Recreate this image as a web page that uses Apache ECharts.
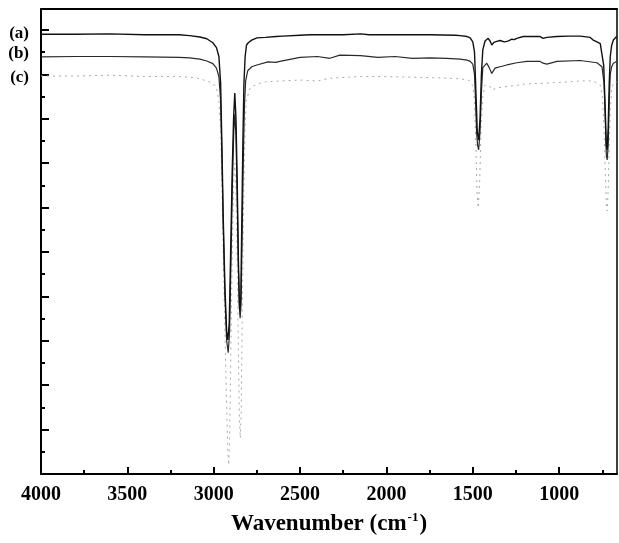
<!DOCTYPE html>
<html><head><meta charset="utf-8">
<script src="https://cdn.jsdelivr.net/npm/echarts@6/dist/echarts.min.js"></script>
<style>html,body{margin:0;padding:0;background:#fff}#c{width:619px;height:543px}</style>
</head><body><div id="c"></div>
<script>
// Spectrum labels
const traceNames = ['(a)', '(b)', '(c)'];
// Axis ticks (wavenumber, cm-1)
const xMajorTicks = [4000, 3500, 3000, 2500, 2000, 1500, 1000];
const xMinorTicks = [3750, 3250, 2750, 2250, 1750, 1250, 750];
const xRange = [665, 4000];
const yMajorTicks = [0, 10, 20, 30, 40, 50, 60, 70, 80, 90, 100];
const yMinorTicks = [5, 15, 25, 35, 45, 55, 65, 75, 85, 95];
const yRange = [0, 104.7];

// Trace (a)
const wnA = [4000,3800,3600,3400,3200,3140,3080,3040,3005,2984,2970,2960,2953,2945,2935,2925,2918,2910,2902,2893,2885,2878,2871,2864,2857,2851,2848,2843,2838,2831,2825,2818,2810,2800,2780,2750,2700,2640,2630,2600,2500,2443,2350,2250,2150,2100,2000,1900,1750,1600,1573,1533,1515,1500,1490,1481,1474,1466,1458,1450,1442,1429,1419,1411,1400,1390,1378,1361,1342,1332,1318,1303,1290,1274,1260,1245,1208,1150,1110,1093,1071,1013,950,878,820,803,781,762,752,742,733,727,722,716,710,704,696,686,667];
const tA  = [99.0,99.0,99.1,98.9,98.9,98.7,98.4,98.0,97.1,96.0,94.0,88,75,58,42,32,30.2,34,50,68,80,85.8,80,66,48,38,36.9,40,55,75,88,94,96.6,97.1,97.7,98.2,98.3,98.5,98.2,98.6,98.8,98.9,98.9,98.9,99.1,98.9,98.9,98.9,98.9,98.8,98.7,98.5,98.2,97.3,95,85,77,75.2,80,90,95.5,97.5,97.8,98.1,97.5,96.6,97.2,97.4,97.6,97.7,97.3,97.4,97.6,97.9,97.8,98.1,98.5,98.5,98.5,98.1,98.3,98.5,98.6,98.6,98.3,97.7,97.3,96.9,96.6,92,82,74,73.0,78,88,94,96.5,97.7,98.5];

// Trace (b)
const wnB = [4000,3800,3600,3400,3200,3140,3080,3040,3005,2984,2970,2960,2953,2945,2935,2925,2916,2908,2900,2892,2884,2878,2871,2864,2857,2851,2847,2842,2836,2829,2822,2815,2803,2780,2750,2686,2640,2630,2617,2500,2400,2327,2270,2150,2050,1950,1850,1747,1650,1573,1533,1515,1500,1490,1484,1478,1472,1466,1458,1450,1442,1430,1419,1405,1390,1371,1342,1303,1245,1187,1110,1093,1071,1013,878,781,752,740,733,727,722,716,710,704,696,686,667];
const tB  = [93.9,94.0,94.0,93.9,93.8,93.7,93.4,93.0,92.4,91.4,89.5,84,72,56,40,30,27.3,32,48,65,77,81,76,62,46,37,35.1,38,52,70,83,88.5,90.8,91.7,92.1,92.8,92.7,92.4,92.9,93.8,94.0,93.6,94.3,94.2,93.8,94.0,93.6,93.7,93.6,93.4,93.2,92.9,92.3,90,84,77,74,73.0,77,86,91.5,92.0,92.5,91.5,90.2,91.4,91.7,92.1,92.6,92.9,92.9,92.5,92.3,92.9,93.1,92.6,91.7,88,80,72,70.7,74,84,90,91.7,92.5,92.9];

// Trace (c)
const wnC = [4000,3800,3600,3400,3200,3100,3040,3005,2984,2970,2960,2953,2945,2935,2925,2918,2913,2908,2900,2892,2884,2878,2871,2864,2857,2851,2846,2841,2835,2828,2820,2812,2789,2750,2700,2617,2500,2400,2327,2153,2055,1900,1700,1573,1520,1500,1490,1482,1475,1468,1460,1452,1442,1430,1400,1390,1350,1250,1200,1093,977,878,803,781,762,750,740,733,726,722,716,710,704,696,686,667];
const tC  = [89.6,89.6,89.8,89.5,89.5,89.2,88.5,88.0,87,84,78,66,50,32,15,5,2.0,8,30,52,66,70,64,48,28,12,8.1,14,35,58,76,84,86.9,87.8,88.3,88.5,88.7,88.5,89.1,89.5,89.5,89.4,89.2,89.0,88.6,87.5,84,74,63,59.9,66,78,85,87.6,87.2,86.5,87,87.5,87.8,88.0,88.2,88.5,88.5,88.0,87.6,85,78,68,60,59.2,64,74,82,86.5,88,88.3];

const pair = (w, t) => w.map((x, i) => [x, t[i]]);
const serif = '"Liberation Serif","Times New Roman",serif';

const chart = echarts.init(document.getElementById('c'), null, {renderer: 'canvas'});
const gridPos = {left: 41, right: 2, top: 9, bottom: 69};
const blk = '#000';

chart.setOption({
  animation: false,
  backgroundColor: '#fff',
  grid: [Object.assign({}, gridPos), Object.assign({}, gridPos)],
  xAxis: [
    { type: 'value', gridIndex: 0, position: 'bottom', inverse: true, min: xRange[0], max: xRange[1],
      axisLine: {show: true, onZero: false, lineStyle: {color: blk, width: 2}},
      axisTick: {show: true, inside: true, length: 7, customValues: xMajorTicks, lineStyle: {color: blk, width: 2}},
      axisLabel: {show: true, customValues: xMajorTicks, margin: 11, color: '#000', fontFamily: serif, fontWeight: 'bold', fontSize: 20,
        formatter: v => String(Math.round(v))},
      splitLine: {show: false},
      name: '{a|Wavenumber (cm}{s|-1}{a|)}', nameLocation: 'middle', nameGap: 37,
      nameTextStyle: {rich: {
        a: {fontFamily: serif, fontWeight: 'bold', fontSize: 23, color: '#000', lineHeight: 26},
        s: {fontFamily: serif, fontWeight: 'bold', fontSize: 13, color: '#000', lineHeight: 26, verticalAlign: 'top', padding: [0, 1, 0, 1]}
      }}
    },
    { type: 'value', gridIndex: 0, position: 'top', inverse: true, min: xRange[0], max: xRange[1],
      axisLine: {show: true, onZero: false, lineStyle: {color: blk, width: 2}},
      axisTick: {show: false}, axisLabel: {show: false}, splitLine: {show: false} },
    { type: 'value', gridIndex: 1, position: 'bottom', inverse: true, min: xRange[0], max: xRange[1],
      axisLine: {show: false},
      axisTick: {show: true, inside: true, length: 4, customValues: xMinorTicks, lineStyle: {color: blk, width: 2}},
      axisLabel: {show: false}, splitLine: {show: false} }
  ],
  yAxis: [
    { type: 'value', gridIndex: 0, position: 'left', min: yRange[0], max: yRange[1],
      axisLine: {show: true, onZero: false, lineStyle: {color: blk, width: 2}},
      axisTick: {show: true, inside: true, length: 8, customValues: yMajorTicks, lineStyle: {color: blk, width: 2}},
      axisLabel: {show: false}, splitLine: {show: false} },
    { type: 'value', gridIndex: 0, position: 'right', min: yRange[0], max: yRange[1],
      axisLine: {show: true, onZero: false, lineStyle: {color: blk, width: 1.5}},
      axisTick: {show: false}, axisLabel: {show: false}, splitLine: {show: false} },
    { type: 'value', gridIndex: 1, position: 'left', min: yRange[0], max: yRange[1],
      axisLine: {show: false},
      axisTick: {show: true, inside: true, length: 4, customValues: yMinorTicks, lineStyle: {color: blk, width: 2}},
      axisLabel: {show: false}, splitLine: {show: false} }
  ],
  series: [
    { name: traceNames[0], type: 'line', xAxisIndex: 0, yAxisIndex: 0, data: pair(wnA, tA), showSymbol: false,
      lineStyle: {color: '#111', width: 1.4}, z: 5 },
    { name: traceNames[1], type: 'line', xAxisIndex: 0, yAxisIndex: 0, data: pair(wnB, tB), showSymbol: false,
      lineStyle: {color: '#2a2a2a', width: 1.2}, z: 4 },
    { name: traceNames[2], type: 'line', xAxisIndex: 0, yAxisIndex: 0, data: pair(wnC, tC), showSymbol: false,
      lineStyle: {color: '#aaaaaa', width: 1, type: [2, 4]}, z: 3 }
  ]
});

// Trace labels placed next to each trace's start
const starts = [tA[0], tB[0], tC[0]];
const offs = [-1, -3, 2];
const gfx = traceNames.map((n, i) => {
  const p = chart.convertToPixel({xAxisIndex: 0, yAxisIndex: 0}, [wnA[0], starts[i]]);
  return {type: 'text', x: p[0] - 12, y: p[1] + offs[i],
    style: {text: n, fill: '#000', font: 'bold 17px ' + serif, align: 'right', verticalAlign: 'middle'}};
});
chart.setOption({graphic: gfx});
</script>
</body></html>
